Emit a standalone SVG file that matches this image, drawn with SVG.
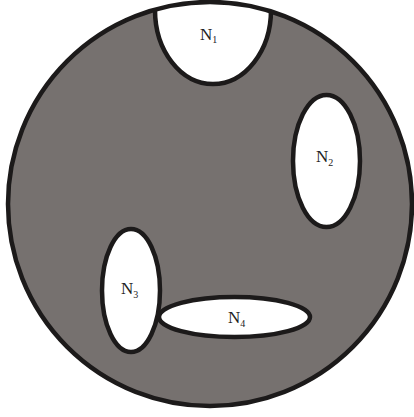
<svg xmlns="http://www.w3.org/2000/svg" width="414" height="417" viewBox="0 0 414 417">
  <style>
    .shape { fill: #ffffff; stroke: #1c1a1a; stroke-width: 4.5; }
    .lbl { font-family: "Liberation Serif", "Times New Roman", serif; font-size: 17px; fill: #222; }
    .sub { font-size: 10px; }
  </style>
  <defs>
    <clipPath id="inside">
      <circle cx="210" cy="204" r="202"/>
    </clipPath>
  </defs>
  <g id="region">
    <circle cx="210" cy="204" r="202" fill="#76716f"/>
  </g>
  <g id="N1">
    <ellipse class="shape" cx="213" cy="10" rx="58" ry="74" clip-path="url(#inside)"/>
    <text class="lbl" x="200" y="40">N<tspan class="sub" dy="3">1</tspan></text>
  </g>
  <g id="boundary">
    <circle cx="210" cy="204" r="202" fill="none" stroke="#1c1a1a" stroke-width="4.5"/>
  </g>
  <g id="N2">
    <ellipse class="shape" cx="326.5" cy="161" rx="33.5" ry="66"/>
    <text class="lbl" x="316" y="162">N<tspan class="sub" dy="4">2</tspan></text>
  </g>
  <g id="N4">
    <ellipse class="shape" cx="234.5" cy="317" rx="75.5" ry="20"/>
    <text class="lbl" x="228" y="323">N<tspan class="sub" dy="4">4</tspan></text>
  </g>
  <g id="N3">
    <ellipse class="shape" cx="131" cy="290.5" rx="29" ry="61.5"/>
    <text class="lbl" x="121" y="294">N<tspan class="sub" dy="4">3</tspan></text>
  </g>
  <g id="connectors"></g>
</svg>
